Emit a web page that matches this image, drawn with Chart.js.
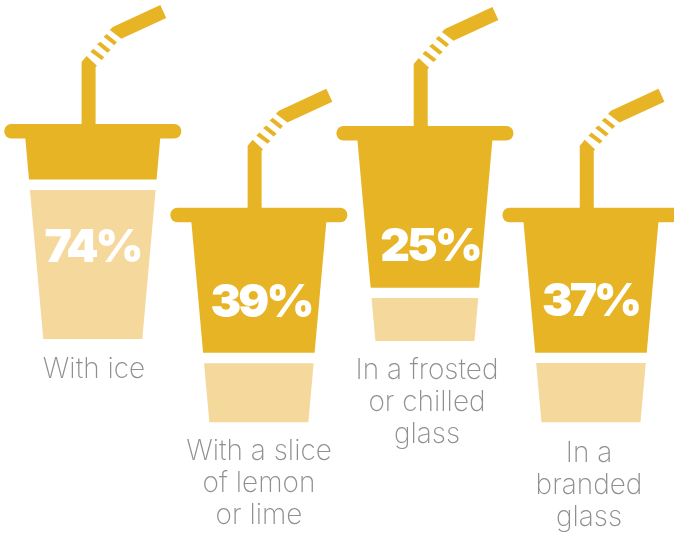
<!DOCTYPE html>
<html>
<head>
<meta charset="utf-8">
<title>How the drink is served</title>
<script src="https://cdn.jsdelivr.net/npm/chart.js@4/dist/chart.umd.min.js"></script>
<style>
    html, body { margin: 0; padding: 0; background: #fff; }
    canvas { display: block; }
</style>
</head>
<body>
<canvas id="cupChart" width="674" height="534"></canvas>
<script>
const categories = [
    ['With ice'],
    ['With a slice', 'of lemon', 'or lime'],
    ['In a frosted', 'or chilled', 'glass'],
    ['In a', 'branded', 'glass']
];
const values = [74, 39, 25, 37];

// every cup has its own hidden axis: value at the cup floor, pixel of floor and brim
const axisFloors = [0, 13.7, 4.8, 10.8];
const cupBottoms = [339, 422.3, 341, 422.3];
const cupTops = [138, 221.7, 140, 221.7];

// text placement
const valueBaselines = [262, 317, 261, 316];
const valueCenters = [92.5, 261, 430, 590.5];
const captionBaselines = [378, 460, 379, 462];
const captionCenters = [94, 259, 427, 589];

const GOLD = '#E7B425';
const PALE = '#F5D89B';
const GREY = '#8F8F8F';
const HEIGHT = 534;

const topHalfWidth = 67.5;
const bottomHalfWidth = 49.5;
const rimHalfWidth = 88.5;
const rimHeight = 14;

// straw pieces, relative to cup centre and top of the rim
const strawParts = [
    [[-11.2, 2], [-11.2, -62], [-6.2, -68], [4.2, -58.3], [2.8, -57], [2.8, 2]],
    [[-2.5, -72.3], [0.5, -75.3], [11.5, -66.7], [8.8, -64]],
    [[4.2, -79.7], [7.5, -82.3], [17.8, -74], [14.8, -71.3]],
    [[10.8, -87.3], [13.8, -90], [24.2, -81.7], [21.5, -78.7]],
    [[17, -94], [20, -97], [67.5, -119], [73.5, -106], [28.5, -85.3]]
];

function cupAxis(i) {
    const perUnit = (cupBottoms[i] - cupTops[i]) / (100 - axisFloors[i]);
    return {
        display: false,
        min: axisFloors[i] - (HEIGHT - cupBottoms[i]) / perUnit,
        max: 100 + cupTops[i] / perUnit
    };
}

function onlyAt(i, v) {
    return values.map((_, j) => (j === i ? v : null));
}

const datasets = [];
const scales = { x: { display: false } };
values.forEach((v, i) => {
    scales['cup' + i] = cupAxis(i);
    datasets.push({
        cup: i,
        yAxisID: 'cup' + i,
        data: onlyAt(i, v),
        backgroundColor: PALE,
        barThickness: 136,
        grouped: false
    });
    // the empty part of the cup, white band at its lower edge
    datasets.push({
        cup: i,
        yAxisID: 'cup' + i,
        data: onlyAt(i, [v, 100]),
        backgroundColor: GOLD,
        borderColor: '#fff',
        borderWidth: { bottom: 11, top: 0, left: 0, right: 0 },
        borderSkipped: false,
        barThickness: 136,
        grouped: false
    });
});

function polygon(ctx, cx, top, points) {
    ctx.beginPath();
    points.forEach((p, k) => {
        if (k === 0) ctx.moveTo(cx + p[0], top + p[1]);
        else ctx.lineTo(cx + p[0], top + p[1]);
    });
    ctx.closePath();
}

const cupPlugin = {
    id: 'cupPlugin',
    // bars are cut down to the tapered body of the cup
    beforeDatasetDraw(chart, args) {
        const i = chart.data.datasets[args.index].cup;
        const scale = chart.scales['cup' + i];
        const cx = chart.scales.x.getPixelForValue(i);
        const top = scale.getPixelForValue(100);
        const bottom = scale.getPixelForValue(axisFloors[i]);
        const ctx = chart.ctx;
        ctx.save();
        ctx.beginPath();
        ctx.moveTo(cx - topHalfWidth, top);
        ctx.lineTo(cx + topHalfWidth, top);
        ctx.lineTo(cx + bottomHalfWidth, bottom);
        ctx.lineTo(cx - bottomHalfWidth, bottom);
        ctx.closePath();
        ctx.clip();
    },
    afterDatasetDraw(chart) {
        chart.ctx.restore();
    },
    afterDatasetsDraw(chart) {
        const ctx = chart.ctx;
        ctx.save();
        values.forEach((v, i) => {
            const cx = chart.scales.x.getPixelForValue(i);
            const rimTop = chart.scales['cup' + i].getPixelForValue(100) - rimHeight;

            ctx.fillStyle = GOLD;
            strawParts.forEach(part => {
                polygon(ctx, cx, rimTop, part);
                ctx.fill();
            });
            ctx.beginPath();
            ctx.roundRect(cx - rimHalfWidth, rimTop, rimHalfWidth * 2, rimHeight + 0.5, rimHeight / 2);
            ctx.fill();

            ctx.textAlign = 'center';
            ctx.textBaseline = 'alphabetic';
            ctx.fillStyle = '#fff';
            ctx.letterSpacing = '-3px';
            ctx.font = '900 46px Inter';
            ctx.fillText(v + '%', valueCenters[i], valueBaselines[i]);

            ctx.fillStyle = GREY;
            ctx.letterSpacing = '0px';
            ctx.font = '200 28px Inter';
            categories[i].forEach((line, k) => {
                ctx.fillText(line, captionCenters[i], captionBaselines[i] + k * 32);
            });
        });
        ctx.restore();
    }
};

new Chart(document.getElementById('cupChart').getContext('2d'), {
    type: 'bar',
    data: { labels: categories, datasets: datasets },
    options: {
        responsive: false,
        animation: false,
        layout: { padding: { left: 9.75, right: 0, top: 0, bottom: 0 } },
        plugins: { legend: { display: false }, tooltip: { enabled: false } },
        scales: scales
    },
    plugins: [cupPlugin]
});
</script>
</body>
</html>
